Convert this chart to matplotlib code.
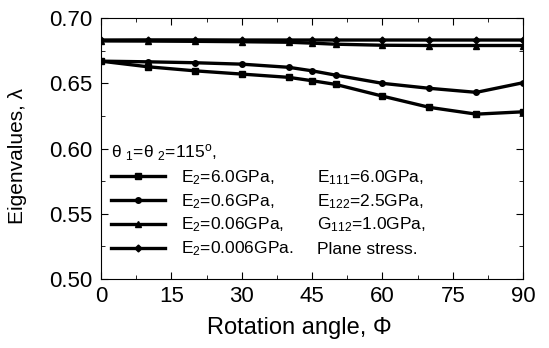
import numpy as np
import matplotlib
matplotlib.use("Agg")
import matplotlib.pyplot as plt
from matplotlib.ticker import MultipleLocator

plt.rcParams['font.family'] = ['Liberation Sans', 'DejaVu Sans']
plt.rcParams['mathtext.fontset'] = 'custom'
plt.rcParams['mathtext.rm'] = 'Liberation Sans'
plt.rcParams['mathtext.it'] = 'Liberation Sans:italic'

# rotation angle (deg)
angle = [0, 10, 20, 30, 40, 45, 50, 60, 70, 80, 90]

# eigenvalues
e2_6 = [0.667, 0.6627, 0.6596, 0.6571, 0.6546, 0.652, 0.6492, 0.6402, 0.6316, 0.6264, 0.6282]
e2_06 = [0.667, 0.6665, 0.6658, 0.6647, 0.6623, 0.6596, 0.6563, 0.6500, 0.6462, 0.6431, 0.6505]
e2_006 = [0.6825, 0.6824, 0.6822, 0.6819, 0.6815, 0.6808, 0.680, 0.6792, 0.679, 0.679, 0.679]
e2_0006 = [0.6832, 0.6833, 0.6833, 0.6832, 0.6832, 0.6832, 0.6832, 0.6832, 0.6832, 0.6832, 0.6832]

labels = [r'E$_\mathrm{2}$=6.0GPa,', r'E$_\mathrm{2}$=0.6GPa,',
          r'E$_\mathrm{2}$=0.06GPa,', r'E$_\mathrm{2}$=0.006GPa.']
extra = [r'E$_\mathrm{111}$=6.0GPa,', r'E$_\mathrm{122}$=2.5GPa,',
         r'G$_\mathrm{112}$=1.0GPa,', 'Plane stress.']

fig = plt.figure(figsize=(5.49, 3.48), dpi=100)
ax = fig.add_axes([0.184, 0.198, 0.769, 0.75])

lw = 2.4
ax.plot(angle, e2_6, color='k', lw=lw, marker='s', ms=5, label=labels[0])
ax.plot(angle, e2_06, color='k', lw=lw, marker='o', ms=4, label=labels[1])
ax.plot(angle, e2_006, color='k', lw=lw, marker='^', ms=5, label=labels[2])
ax.plot(angle, e2_0006, color='k', lw=lw, marker='D', ms=3.5, label=labels[3])

ax.set_xlim(0, 90)
ax.set_ylim(0.50, 0.70)
ax.xaxis.set_major_locator(MultipleLocator(15))
ax.xaxis.set_minor_locator(MultipleLocator(7.5))
ax.yaxis.set_major_locator(MultipleLocator(0.05))
ax.yaxis.set_minor_locator(MultipleLocator(0.025))
ax.yaxis.set_major_formatter(plt.FormatStrFormatter('%.2f'))
ax.tick_params(which='both', direction='in', top=True, right=True, labelsize=16)
ax.tick_params(which='major', length=5)
ax.tick_params(which='minor', length=3)
ax.tick_params(axis='x', pad=5)
ax.tick_params(axis='y', pad=6)

ax.set_xlabel('Rotation angle, Φ', fontsize=17)
ax.xaxis.set_label_coords(0.47, -0.145)
ax.set_ylabel('Eigenvalues, λ', fontsize=15)
ax.yaxis.set_label_coords(-0.175, 0.47)

leg = ax.legend(loc='upper left', bbox_to_anchor=(0.0, 0.565), frameon=False,
                title=r'θ $_\mathrm{1}$=θ $_\mathrm{2}$=115$^\mathrm{o}$,',
                fontsize=12.5, title_fontsize=12.5, handlelength=3.1,
                labelspacing=0.3, borderaxespad=0.2, handletextpad=0.9)
leg._legend_box.align = 'left'

fig.canvas.draw()
renderer = fig.canvas.get_renderer()
inv = ax.transAxes.inverted()
for txt, s in zip(leg.get_texts(), extra):
    bb = txt.get_window_extent(renderer)
    (x0, y0), (x1, y1) = inv.transform([[bb.x0, bb.y0], [bb.x1, bb.y1]])
    ax.text(0.512, (y0 + y1) / 2, s, transform=ax.transAxes, fontsize=12.5,
            va='center', ha='left')

fig.savefig('out.png', dpi=100)
